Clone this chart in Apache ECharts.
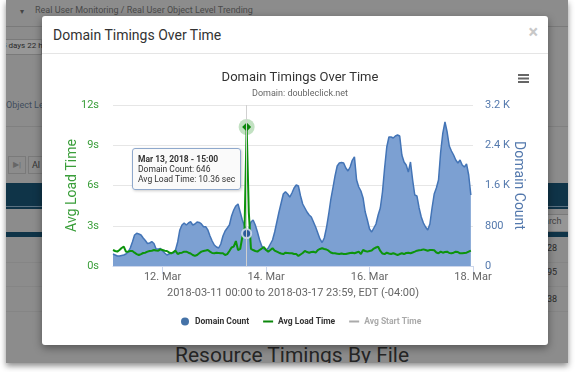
<!DOCTYPE html>
<html>
<head>
<meta charset="utf-8">
<script src="https://cdn.jsdelivr.net/npm/echarts@6/dist/echarts.min.js"></script>
<style>
  html, body { margin:0; padding:0; width:575px; height:372px; background:#fff; overflow:hidden; font-family: Roboto, "Noto Sans", sans-serif; }
  .page { position:absolute; left:6px; top:0; width:562px; height:363px; background:#8c8c8c; overflow:hidden; box-shadow: 0 3px 6px rgba(0,0,0,0.45); }
  .pg { position:absolute; white-space:nowrap; }
  .modal { position:absolute; left:42px; top:16px; width:506px; height:329px; background:#fff; border-radius:3px; box-shadow: 0 3px 9px rgba(0,0,0,0.4); }
  .mtitle { position:absolute; left:11px; top:11px; font-size:14px; color:#333; }
  .mclose { position:absolute; right:10px; top:5px; font-size:18px; color:#c8c8c8; font-weight:bold; }
  .mline { position:absolute; left:0; top:37px; width:506px; height:1px; background:#e5e5e5; }
  #chart { position:absolute; left:0; top:0; width:575px; height:372px; z-index:10; }
</style>
</head>
<body>
<div class="page">
  <div class="pg" style="left:14px;top:7px;font-size:8px;color:#444;">&#9662;</div>
  <div class="pg" style="left:29px;top:5px;font-size:9px;color:#4a4a4a;">Real User Monitoring / Real User Object Level Trending</div>
  <div class="pg" style="left:0;top:26px;width:562px;height:1px;background:#7a7a7a;"></div>
  <div class="pg" style="left:-6px;top:39px;width:40px;height:14px;background:#979797;border:1px solid #7a7a7a;"></div>
  <div class="pg" style="left:-4px;top:41px;font-size:8px;color:#2a2a2a;">5 days 22 h</div>
  <div class="pg" style="left:0px;top:100px;font-size:9px;color:#3f4d5c;">Object Le</div>
  <div class="pg" style="left:0;top:126px;width:562px;height:1px;background:#808080;"></div>
  <div class="pg" style="left:2px;top:156px;width:16px;height:16px;border:1px solid #7a7a7a;font-size:8px;color:#666;text-align:center;line-height:16px;">&#9654;|</div>
  <div class="pg" style="left:22px;top:156px;width:16px;height:16px;border:1px solid #7a7a7a;font-size:9px;color:#333;line-height:16px;padding-left:3px;">Al</div>
  <div class="pg" style="left:0;top:183px;width:562px;height:26px;background:#0f3448;"></div>
  <div class="pg" style="left:0;top:206px;width:562px;height:1px;background:#5a7080;"></div>
  <div class="pg" style="left:0;top:232px;width:562px;height:5px;background:#0f3448;"></div>
  <div class="pg" style="left:536px;top:214px;width:30px;height:16px;background:#969696;border:1px solid #7a7a7a;"></div>
  <div class="pg" style="left:538px;top:216px;font-size:9px;color:#444;">arch</div>
  <div class="pg" style="left:0;top:262px;width:562px;height:1px;background:#858585;"></div>
  <div class="pg" style="left:0;top:286px;width:562px;height:1px;background:#858585;"></div>
  <div class="pg" style="left:0;top:311px;width:562px;height:1px;background:#858585;"></div>
  <div class="pg" style="left:541px;top:243px;font-size:9px;color:#2a2a2a;">28</div>
  <div class="pg" style="left:541px;top:267px;font-size:9px;color:#2a2a2a;">95</div>
  <div class="pg" style="left:541px;top:294px;font-size:9px;color:#2a2a2a;">38</div>
  <div class="pg" style="left:169px;top:343px;font-size:21px;color:#262626;">Resource Timings By File</div>
</div>
<div class="modal">
  <div class="mtitle">Domain Timings Over Time</div>
  <div class="mclose">&#215;</div>
  <div class="mline"></div>
</div>
<div id="chart"></div>
<script>
// hourly samples: 2018-03-11 01:00 .. 2018-03-17 23:00 (EDT), axis ends 18 Mar 00:00
var domainCount = [
  239,219,199,199,209,219,239,278,358,477,
  616,650,636,616,557,507,447,457,483,447,
  338,338,348,298,258,219,239,258,258,318,
  477,716,815,855,815,855,880,815,835,875,
  865,835,781,781,716,596,497,417,378,358,
  437,596,696,755,815,994,1113,1193,1232,1073,
  914,795,646,735,875,914,815,676,517,398,
  338,318,358,437,517,676,875,1073,1252,1431,
  1477,1431,1371,1451,1550,1610,1590,1391,1232,1153,
  1073,1014,974,875,775,656,537,467,557,755,
  1014,1312,1550,1789,1988,2047,2057,2047,1948,1888,
  1968,2100,2170,1709,1570,1491,1352,1073,914,735,
  676,755,835,1014,1153,1471,1948,2365,2564,2564,
  2544,2584,2604,2584,2206,2067,2008,1868,2067,1709,
  1411,1391,1153,974,855,775,716,835,1153,1431,
  1550,1709,2266,2643,2862,2663,2385,2286,2206,2107,
  2047,2107,2008,1968,2027,1809,1411
];
var avgLoadTime = [
  1.19,1.12,1.07,1.19,1.34,1.44,1.07,1.07,1.12,1.12,
  0.99,0.89,0.82,0.89,0.97,0.99,1.07,1.12,1.14,1.19,
  1.15,1.14,1.24,1.19,1.14,1.12,1.01,0.95,1.04,1.14,
  0.89,0.97,0.99,1.07,1.07,0.99,0.93,0.82,0.75,0.82,
  0.95,1.07,1.12,1.15,1.19,1.07,0.97,0.95,0.99,0.97,
  0.95,0.95,0.82,0.89,1.12,1.38,1.44,1.86,1.19,1.27,
  2.16,2.6,10.36,4.0,1.27,1.19,1.12,1.07,1.19,1.3,
  1.42,1.19,1.07,1.19,1.32,1.15,1.07,0.99,0.93,0.89,
  0.99,0.97,0.95,0.95,0.89,0.89,0.75,0.86,0.97,1.12,
  1.04,0.99,1.04,1.07,0.99,1.19,1.27,1.32,1.27,1.23,
  1.14,1.01,0.95,0.95,0.92,0.89,0.93,0.89,0.89,0.93,
  0.97,0.99,0.95,1.01,1.07,0.89,1.19,1.12,1.07,1.12,
  1.15,1.3,1.38,1.44,1.12,0.93,0.89,0.99,0.93,0.89,
  0.95,0.89,0.82,0.89,0.95,0.89,0.97,0.99,0.95,1.01,
  1.07,1.14,1.17,1.19,1.24,1.19,1.14,1.19,1.19,1.17,
  1.01,0.95,1.07,0.99,1.04,1.07,0.97,0.95,0.99,1.07,
  1.04,0.95,0.95,0.97,0.99,1.07,1.14
];
var avgStartTime = [];
var loadTicks = [0, 3, 6, 9, 12];
var countTicks = [0, 800, 1600, 2400, 3200];
var seriesNames = ['Domain Count', 'Avg Load Time', 'Avg Start Time'];
var hoverIndex = 62; // Mar 13, 2018 - 15:00

// hourly category labels 2018-03-11 01:00 .. 2018-03-18 00:00
var months = ['Jan','Feb','Mar','Apr','May','Jun','Jul','Aug','Sep','Oct','Nov','Dec'];
var hours = [];
for (var h = 1; h <= 168; h++) {
  var d = new Date(Date.UTC(2018, 2, 11, h));
  hours.push({ y: d.getUTCFullYear(), m: d.getUTCMonth(), d: d.getUTCDate(), h: d.getUTCHours() });
}
function pad(n){ return (n < 10 ? '0' : '') + n; }
var categories = hours.map(function(t){ return t.y + '-' + pad(t.m + 1) + '-' + pad(t.d) + ' ' + pad(t.h) + ':00'; });
function isMajor(i){ return hours[i].h === 0 && (hours[i].d % 2 === 0); }

var GREEN = '#0b870b', GREEN_TXT = '#3a9e3a', BLUE = '#4572a7', BLUE_TXT = '#5479ad';
var chart = echarts.init(document.getElementById('chart'), null, { renderer: 'canvas' });
var ff = 'Roboto, "Noto Sans", sans-serif';
chart.setOption({
  animation: false,
  backgroundColor: 'transparent',
  textStyle: { fontFamily: ff },
  title: {
    text: 'Domain Timings Over Time',
    subtext: 'Domain: doubleclick.net',
    left: 295, top: 66, textAlign: 'center', itemGap: 5,
    textStyle: { fontSize: 13, fontWeight: 'normal', color: '#333', fontFamily: ff },
    subtextStyle: { fontSize: 9, color: '#666', fontFamily: ff }
  },
  graphic: [
    { type: 'rect', shape: { x: 518, y: 74, width: 11, height: 2 }, style: { fill: '#666' } },
    { type: 'rect', shape: { x: 518, y: 77.5, width: 11, height: 2 }, style: { fill: '#666' } },
    { type: 'rect', shape: { x: 518, y: 81, width: 11, height: 2 }, style: { fill: '#666' } }
  ],
  legend: {
    left: 176, top: 312, itemWidth: 10, itemHeight: 8, itemGap: 14,
    selected: { 'Avg Start Time': false },
    inactiveColor: '#aaa',
    textStyle: { fontSize: 8.5, fontWeight: 'bold', color: '#333', fontFamily: ff },
    data: [
      { name: seriesNames[0], icon: 'circle', itemStyle: { color: BLUE } },
      { name: seriesNames[1], icon: 'path://M0,0H10V2H0Z' },
      { name: seriesNames[2], icon: 'path://M0,0H10V2H0Z' }
    ]
  },
  tooltip: {
    trigger: 'axis',
    alwaysShowContent: true,
    transitionDuration: 0,
    position: [132, 148],
    backgroundColor: 'rgba(250,250,250,0.92)',
    borderColor: '#8ea8cc', borderWidth: 1, padding: [5, 5],
    textStyle: { fontSize: 8.5, color: '#333', fontFamily: ff },
    extraCssText: 'border-radius:3px;box-shadow:1px 1px 3px rgba(0,0,0,0.2);line-height:10px;',
    axisPointer: { type: 'line', lineStyle: { color: '#d0d0d0', width: 1, type: 'solid' }, label: { show: false } },
    formatter: function(params) {
      var i = params[0].dataIndex, t = hours[i];
      var head = months[t.m] + ' ' + t.d + ', ' + t.y + ' - ' + pad(t.h) + ':00';
      return '<b>' + head + '</b><br/>Domain Count: ' + domainCount[i] + '<br/>Avg Load Time: ' + avgLoadTime[i].toFixed(2) + ' sec';
    }
  },
  grid: { left: 113, top: 105, width: 360, height: 161, containLabel: false },
  xAxis: {
    type: 'category', data: categories, boundaryGap: false,
    axisLine: { lineStyle: { color: '#ccd6eb' } },
    axisTick: { show: true, length: 8, interval: function(i){ return isMajor(i); }, lineStyle: { color: '#ccd6eb' } },
    axisLabel: {
      interval: function(i){ return isMajor(i); }, margin: 6, color: '#666', fontSize: 11,
      formatter: function(v, i){ var t = hours[i]; return t.d + '. ' + months[t.m]; }
    },
    splitLine: { show: false },
    name: '2018-03-11 00:00 to 2018-03-17 23:59, EDT (-04:00)',
    nameLocation: 'middle', nameGap: 22, nameMoveOverlap: false,
    nameTextStyle: { color: '#666', fontSize: 11 }
  },
  yAxis: [
    {
      type: 'value', position: 'left', min: loadTicks[0], max: loadTicks[loadTicks.length - 1], interval: loadTicks[1] - loadTicks[0],
      axisLine: { show: false }, axisTick: { show: false },
      axisLabel: { formatter: '{value}s', color: GREEN_TXT, fontSize: 11, margin: 14 },
      splitLine: { lineStyle: { color: '#e6e6e6' } },
      name: 'Avg Load Time', nameLocation: 'middle', nameGap: 34, nameMoveOverlap: false,
      nameTextStyle: { color: GREEN_TXT, fontSize: 14 }
    },
    {
      type: 'value', position: 'right', min: countTicks[0], max: countTicks[countTicks.length - 1], interval: countTicks[1] - countTicks[0],
      axisLine: { show: false }, axisTick: { show: false },
      axisLabel: { color: BLUE_TXT, fontSize: 11, margin: 12,
        formatter: function(v){ return v >= 1000 ? (v / 1000) + ' K' : String(v); } },
      splitLine: { show: false },
      name: 'Domain Count', nameLocation: 'middle', nameGap: 38, nameRotate: -90, nameMoveOverlap: false,
      nameTextStyle: { color: BLUE_TXT, fontSize: 14 }
    }
  ],
  series: [
    {
      name: seriesNames[0], type: 'line', yAxisIndex: 1, data: domainCount,
      showSymbol: false, symbol: 'none', z: 1,
      itemStyle: { color: BLUE },
      lineStyle: { color: '#3d6aa6', width: 1.5 },
      areaStyle: { color: '#7192bf', opacity: 1 }
    },
    {
      name: seriesNames[1], type: 'line', yAxisIndex: 0, data: avgLoadTime,
      showSymbol: false, symbol: 'diamond', symbolSize: 9, z: 3,
      itemStyle: { color: GREEN, borderColor: GREEN, borderWidth: 0 },
      emphasis: { scale: false, itemStyle: { color: GREEN, borderColor: GREEN, borderWidth: 0 } },
      lineStyle: { color: GREEN, width: 2 },
      markPoint: {
        silent: true, label: { show: false },
        data: [
          { coord: [categories[hoverIndex], avgLoadTime[hoverIndex]], symbol: 'circle', symbolSize: 16, itemStyle: { color: 'rgba(11,135,11,0.25)' } }
        ]
      }
    },
    {
      name: seriesNames[2], type: 'line', yAxisIndex: 0, data: avgStartTime,
      showSymbol: false, itemStyle: { color: '#777' }, lineStyle: { color: '#777', width: 2 }
    },
    {
      name: 'hover-count', type: 'scatter', yAxisIndex: 1, silent: true, z: 5,
      data: domainCount.map(function(v, i){ return i === hoverIndex ? v : null; }),
      symbol: 'circle', symbolSize: 9,
      itemStyle: { color: '#2d5a99', borderColor: 'rgba(215,226,242,0.85)', borderWidth: 2, opacity: 1 },
      tooltip: { show: false }
    }
  ]
});
chart.dispatchAction({ type: 'showTip', seriesIndex: 1, dataIndex: hoverIndex });
</script>
</body>
</html>
